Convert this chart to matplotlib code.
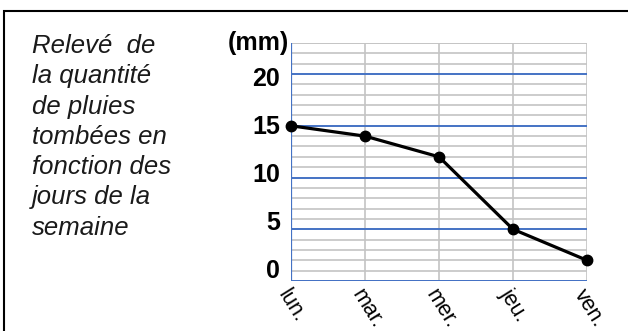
import matplotlib.pyplot as plt
from matplotlib.patches import Rectangle

# data
days = ['lun.', 'mar.', 'mer.', 'jeu.', 'ven.']
rain_mm = [15, 14, 12, 5, 2]
y_ticks = [0, 5, 10, 15, 20]
title_text = "Relevé  de\nla quantité\nde pluies\ntombées en\nfonction des\njours de la\nsemaine"

plt.rcParams['font.family'] = ['Liberation Sans', 'DejaVu Sans']

fig = plt.figure(figsize=(6.28, 3.31), dpi=100)
ax = fig.add_axes([291 / 628, 50 / 331, 296 / 628, 238 / 331])

x = list(range(len(days)))

# grid: gray every mm, blue every 5 mm
for v in range(0, 24):
    color = '#4472c4' if v % 5 == 0 else '#c4c4c4'
    lw = 1.4 if v % 5 == 0 else 1.2
    ax.axhline(v, color=color, lw=lw, zorder=1 if v % 5 else 2)
ax.axhline(23, color='#c4c4c4', lw=1.2, zorder=1)
for xi in x:
    ax.axvline(xi, color='#c4c4c4', lw=1.2, zorder=1)
ax.axvline(0, color='#4472c4', lw=1.6, zorder=2)
ax.axhline(0, color='#4472c4', lw=1.8, zorder=2)

# line
ax.plot(x, rain_mm, color='black', lw=2.3, marker='o', markersize=7.5, zorder=5, clip_on=False)

ax.set_xlim(0, len(days) - 1)
ax.set_ylim(0, 23)
for s in ax.spines.values():
    s.set_visible(False)

# y labels sit a bit above their lines in the original
ax.set_yticks([v * 0.93 + 1.2 for v in y_ticks])
ax.set_yticklabels([str(v) for v in y_ticks], fontsize=18, fontweight='bold')
ax.tick_params(axis='y', length=0, pad=8)

ax.set_xticks(x)
ax.set_xticklabels(days, fontsize=15.5, rotation=-58, ha='left', va='top', rotation_mode='anchor')
ax.tick_params(axis='x', length=0, pad=3)

ax.text(-0.03, 23.0, '(mm)', fontsize=18, fontweight='bold', ha='right', va='center',
        transform=ax.transData, clip_on=False)

fig.text(32 / 628, 1 - 34 / 331, title_text, fontsize=18.5, style='italic', ha='left', va='top',
         linespacing=1.33, color='#1a1a1a')

# outer frame
fig.patches.append(Rectangle((4 / 628, -0.2), 2, 1.2 - 11 / 331, transform=fig.transFigure,
                             fill=False, edgecolor='black', lw=1.5))

plt.savefig('out.png', dpi=100)
